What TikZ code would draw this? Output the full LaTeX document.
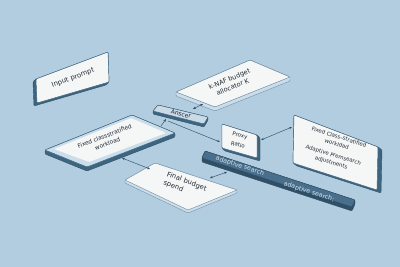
\documentclass[tikz,border=0pt]{standalone}
\usepackage{fontspec}
\setmainfont{DejaVu Sans}
\usetikzlibrary{arrows.meta}
\definecolor{bg}{HTML}{B3CDE0}
\definecolor{dk}{HTML}{3E6580}
\definecolor{dkside}{HTML}{2F4F66}
\definecolor{barface}{HTML}{4A6F8C}
\definecolor{lt}{HTML}{C9DDEB}
\definecolor{face}{HTML}{F5F6F6}
\definecolor{ansface}{HTML}{CADAE6}
\definecolor{txt}{HTML}{1F2B35}
\definecolor{bartxt}{HTML}{D5E3EE}
\begin{document}
\begin{tikzpicture}[x=1pt,y=-1pt,
  darkside/.style={fill=dk,draw=dkside,line width=0.4pt,rounded corners=1pt,line join=round},
  lightside/.style={fill=lt,draw=dk!70,line width=0.4pt,rounded corners=1pt,line join=round},
  topface/.style={fill=face,draw=dk,line width=0.45pt,rounded corners=1pt,line join=round},
  lbl/.style={font=\fontsize{6}{7}\selectfont,text=txt,align=center,inner sep=0pt},
  link/.style={draw=dkside,line width=0.45pt,-{Stealth[length=3pt,width=2.4pt]}},
  blink/.style={draw=dkside,line width=0.45pt,{Stealth[length=3pt,width=2.4pt]}-{Stealth[length=3pt,width=2.4pt]}}
]
\fill[bg] (0,0) rectangle (400,267);
\useasboundingbox (0,0) rectangle (400,267);

% Input prompt
\fill[darkside] (33,82) -- (36,79) -- (108,52) -- (109,82) -- (106,85) -- (34,106) -- cycle;
\draw[topface] (36,79) -- (108,52) -- (109,82) -- (37,103) -- cycle;
\node[lbl,rotate=20,font=\fontsize{6.8}{8}\selectfont] (inp) at (73,78) {Input prompt};

% k-NAF budget allocator
\fill[lightside] (176,92) -- (250,60) -- (290,77) -- (290,81) -- (215,111) -- (176,96) -- cycle;
\draw[topface,draw=dk!80] (176,92) -- (250,60) -- (290,77) -- (215,107) -- cycle;
\node[lbl,rotate=23,font=\fontsize{6.5}{8.5}\selectfont] (knaf) at (231,83) {k-NAF budget\\allocator K};

% Anscer
\fill[darkside] (153,111) -- (158,105) -- (208,117) -- (208,120) -- (204,127) -- (153,114) -- cycle;
\draw[topface,fill=ansface] (153,111) -- (158,105) -- (208,117) -- (204,124) -- cycle;
\node[lbl,rotate=-14,font=\fontsize{6}{7}\selectfont] (ans) at (181,114) {Anscer};

% Fixed class-stratified workload (left)
\fill[darkside] (45,150) -- (132,115) -- (175,133) -- (175,137) -- (87,171) -- (45,154) -- cycle;
\draw[topface,fill=lt] (45,150) -- (132,115) -- (175,133) -- (87,167) -- cycle;
\fill[face,rounded corners=1pt] (54,149) -- (131,118) -- (166,133) -- (89,162) -- cycle;
\node[lbl,rotate=21,font=\fontsize{5.8}{8}\selectfont] (lw) at (106,140) {Fixed classstratified\\workload};

% Final budget spend
\fill[lightside] (125,180) -- (155,163) -- (237,190) -- (237,193) -- (188,213) -- (125,183) -- cycle;
\draw[topface,draw=dk!70] (125,180) -- (155,163) -- (237,190) -- (188,210) -- cycle;
\node[lbl,rotate=-21,align=left,font=\fontsize{6.8}{9}\selectfont] (fin) at (185,186) {Final budget\\spend};

% Proxy Ratio
\fill[darkside] (222,124) -- (257,135) -- (260,138) -- (260,161) -- (225,151) -- (222,148) -- cycle;
\draw[topface] (222,124) -- (257,135) -- (257,158) -- (222,148) -- cycle;
\node[lbl,rotate=-12,font=\fontsize{5.5}{9.5}\selectfont] (prx) at (239,140) {Proxy\\Ratio};

% Right box
\fill[darkside] (294,115) -- (378,147) -- (382,150) -- (381,193) -- (297,166) -- (293,163) -- cycle;
\draw[topface] (294,115) -- (378,147) -- (377,190) -- (293,163) -- cycle;
\node[lbl,rotate=-17,font=\fontsize{5.4}{7.5}\selectfont] (rb) at (335,150) {Fixed Class--stratified\\workldad\\[4pt]Adaptive Premsearch\\adjustments};

% Adaptive search bar
\fill[darkside,fill=dkside] (205,151) -- (355,200) -- (355,204) -- (352,211) -- (202,162) -- (202,158) -- cycle;
\draw[fill=barface,draw=dkside,line width=0.4pt,rounded corners=1pt] (205,151) -- (355,200) -- (352,207) -- (202,158) -- cycle;
\node[lbl,rotate=-18,text=bartxt,font=\fontsize{6.3}{7}\selectfont] (as1) at (240,166) {adaptive search};
\node[lbl,rotate=-18,text=bartxt,font=\fontsize{6.3}{7}\selectfont] (as2) at (309,192) {adaptive search:};

% connector end points
\coordinate (lwA) at (122,158);
\coordinate (finA) at (150,169);
\coordinate (lwB) at (161,126);
\coordinate (ansB) at (166,119);
\coordinate (ansC) at (168,121);
\coordinate (prxC) at (220,142);
\coordinate (ansD) at (193,109);
\coordinate (knafD) at (203,104);
\coordinate (prxE) at (261,140);
\coordinate (rbE) at (292,127);
\coordinate (finF) at (210,178);
\coordinate (asF) at (227,172);

\draw[blink] (lwA) -- (finA);
\draw[link] (lwB) -- (ansB);
\draw[link] (ansC) -- (prxC);
\draw[blink] (ansD) -- (knafD);
\draw[blink] (prxE) -- (rbE);
\draw[blink] (finF) -- (asF);
\end{tikzpicture}
\end{document}
